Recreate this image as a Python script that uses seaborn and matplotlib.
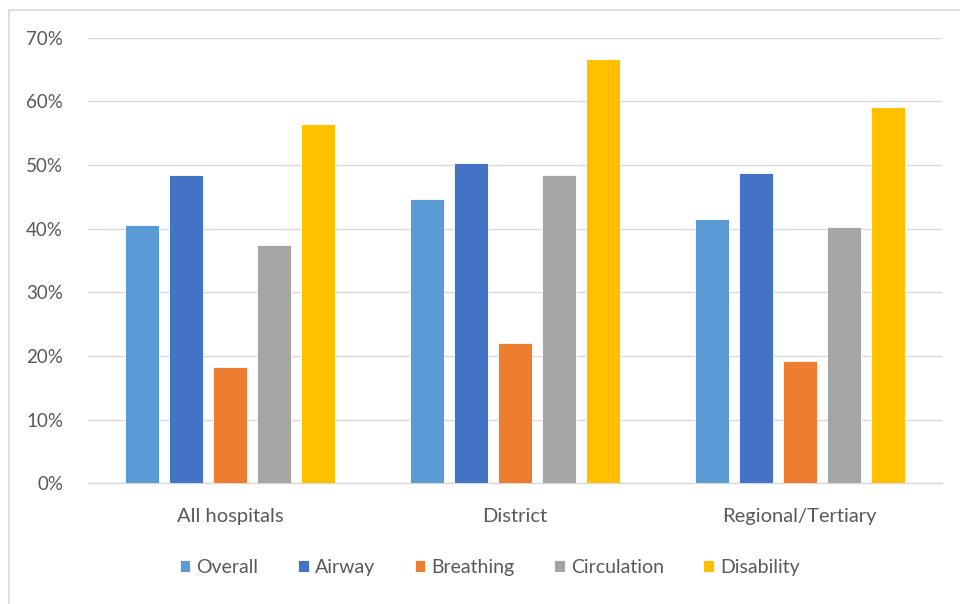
import matplotlib
matplotlib.use("Agg")
import matplotlib.pyplot as plt
import matplotlib.patches as mpatches
from matplotlib.ticker import PercentFormatter, MultipleLocator
import seaborn as sns
import pandas as pd

# Hospital groups and the share of assessments met per ABCD domain
categories = ["All hospitals", "District", "Regional/Tertiary"]
series = ["Overall", "Airway", "Breathing", "Circulation", "Disability"]
overall = [40.6, 44.7, 41.5]
airway = [48.4, 50.3, 48.8]
breathing = [18.3, 22.1, 19.2]
circulation = [37.4, 48.4, 40.3]
disability = [56.4, 66.7, 59.1]
colors = ["#5B9BD5", "#4472C4", "#ED7D31", "#A5A5A5", "#FFC000"]

values = [overall, airway, breathing, circulation, disability]
df = pd.DataFrame(
    [(c, s, v[i]) for s, v in zip(series, values) for i, c in enumerate(categories)],
    columns=["group", "domain", "pct"],
)

sns.set_theme(style="white")
plt.rcParams["font.family"] = ["Lato", "DejaVu Sans"]

fig = plt.figure(figsize=(9.6, 6.04), dpi=100)
ax = fig.add_axes([0.0917, 0.2, 0.8895, 0.7376])

sns.barplot(
    data=df, x="group", y="pct", hue="domain", order=categories,
    hue_order=series, palette=colors, saturation=1, width=0.773, gap=0.23,
    edgecolor="white", linewidth=0.6, ax=ax, legend=True, zorder=3,
)

ax.set_ylim(0, 70)
ax.yaxis.set_major_locator(MultipleLocator(10))
ax.yaxis.set_major_formatter(PercentFormatter(decimals=0))
ax.set_xlim(-0.5, 2.5)
ax.grid(axis="y", color="#D9D9D9", linewidth=1.0, zorder=0)
ax.set_axisbelow(True)
for side in ["left", "right", "top"]:
    ax.spines[side].set_visible(False)
ax.spines["bottom"].set_color("#D9D9D9")
ax.spines["bottom"].set_linewidth(1.0)
ax.set_xlabel("")
ax.set_ylabel("")
ax.tick_params(axis="y", length=0, pad=18, labelsize=13.5, labelcolor="#595959")
ax.tick_params(axis="x", length=0, pad=18, labelsize=14.5, labelcolor="#595959")

handles, labels = ax.get_legend_handles_labels()
ax.legend_.remove()
fig.legend(
    handles, labels, loc="center", bbox_to_anchor=(0.51, 0.061), ncol=5,
    frameon=False, fontsize=14, labelcolor="#595959", handlelength=0.55,
    handleheight=0.55, handletextpad=0.3, columnspacing=2.05,
)

# Light frame around the chart area
fig.patches.append(mpatches.Rectangle(
    (8.5 / 960, -0.05), 1.2, 1 - 9.5 / 604 + 0.05, transform=fig.transFigure,
    fill=False, edgecolor="#D9D9D9", linewidth=1.2, zorder=0,
))

fig.savefig("out.png", dpi=100, facecolor="white")
